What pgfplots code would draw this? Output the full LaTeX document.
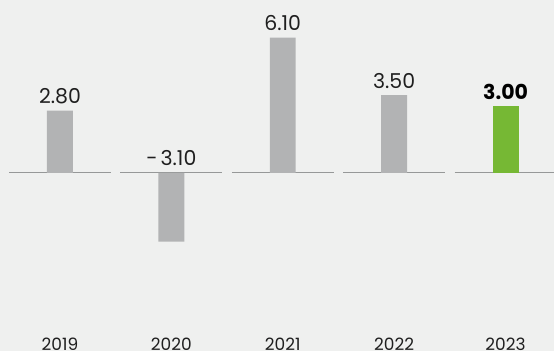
\documentclass[border=0pt]{standalone}
\usepackage{pgfplots}
\pgfplotsset{compat=1.18}
\usepackage{pgfplotstable}
\usepackage{fontspec}
\setmainfont{Poppins}

\definecolor{bgpanel}{RGB}{239,240,239}
\definecolor{bargray}{RGB}{178,179,180}
\definecolor{bargreen}{RGB}{118,184,52}
\definecolor{zeroline}{RGB}{150,152,152}

% year index, value, height of the value label, label text
\pgfplotstableread[col sep=comma]{
x,v,ly,lab
0,2.80,2.80,2.80
1,-3.10,0,-\kern3pt3.10
2,6.10,6.10,6.10
3,3.50,3.50,3.50
}\greybars
\pgfplotstableread[col sep=comma]{
x,v,ly,lab
4,3.00,3.00,3.00
}\greenbars

\begin{document}
\begin{tikzpicture}
\begin{axis}[
  scale only axis, width=555pt, height=351pt,
  xmin=-0.538, xmax=4.439,
  ymin=-8.018, ymax=7.793,
  axis lines=none, ticks=none,
  clip=false,
  unbounded coords=jump,
]
\fill[bgpanel] (rel axis cs:0,0) rectangle (rel axis cs:1,1);

% zero line, broken into one segment per year
\addplot[zeroline, line width=1.1pt, mark=none] coordinates {
  (-0.457,0) (0.457,0) (0.5,nan)
  (0.543,0) (1.457,0) (1.5,nan)
  (1.543,0) (2.457,0) (2.5,nan)
  (2.543,0) (3.457,0) (3.5,nan)
  (3.543,0) (4.439,0)
};

\addplot[ybar, bar width=26pt, fill=bargray, draw=none] table[x=x, y=v] {\greybars};
\addplot[ybar, bar width=26pt, fill=bargreen, draw=none] table[x=x, y=v] {\greenbars};

% value labels
\addplot[draw=none, mark=none, point meta=explicit symbolic,
  nodes near coords,
  every node near coord/.style={anchor=base, inner sep=0pt, yshift=7pt,
    font=\fontsize{20.5}{20.5}\selectfont, text=black!88}]
  table[x=x, y=ly, meta=lab] {\greybars};
\addplot[draw=none, mark=none, point meta=explicit symbolic,
  nodes near coords,
  every node near coord/.style={anchor=base, inner sep=0pt, yshift=7pt,
    font=\fontsize{20.5}{20.5}\selectfont\bfseries, text=black}]
  table[x=x, y=ly, meta=lab] {\greenbars};

% year labels along the bottom
\node[anchor=base, inner sep=0pt, font=\fontsize{17}{17}\selectfont, text=black!88] at (axis cs:0,-7.99) {2019};
\node[anchor=base, inner sep=0pt, font=\fontsize{17}{17}\selectfont, text=black!88] at (axis cs:1,-7.99) {2020};
\node[anchor=base, inner sep=0pt, font=\fontsize{17}{17}\selectfont, text=black!88] at (axis cs:2,-7.99) {2021};
\node[anchor=base, inner sep=0pt, font=\fontsize{17}{17}\selectfont, text=black!88] at (axis cs:3,-7.99) {2022};
\node[anchor=base, inner sep=0pt, font=\fontsize{17}{17}\selectfont, text=black!88] at (axis cs:4,-7.99) {2023};
\end{axis}
\end{tikzpicture}
\end{document}
